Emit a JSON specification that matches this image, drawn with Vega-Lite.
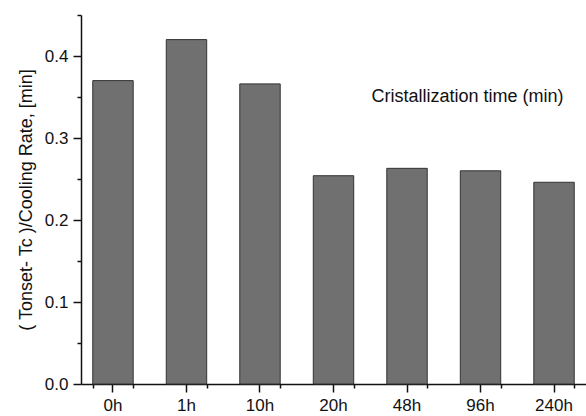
{
  "$schema": "https://vega.github.io/schema/vega-lite/v6.json",
  "width": 505,
  "height": 369,
  "autosize": {"type": "none"},
  "padding": {"left": 81, "top": 15, "right": 0, "bottom": 32},
  "background": "white",
  "config": {
    "view": {"stroke": null},
    "font": "Liberation Sans",
    "axis": {"labelFont": "Liberation Sans", "titleFont": "Liberation Sans", "labelColor": "#111", "titleColor": "#111", "domainColor": "#111", "tickColor": "#111", "grid": false, "domainWidth": 1.5, "tickWidth": 1.5}
  },
  "data": {
    "values": [
      {"time": "0h", "value": 0.370},
      {"time": "1h", "value": 0.420},
      {"time": "10h", "value": 0.366},
      {"time": "20h", "value": 0.254},
      {"time": "48h", "value": 0.263},
      {"time": "96h", "value": 0.260},
      {"time": "240h", "value": 0.246}
    ]
  },
  "layer": [
    {
      "mark": {"type": "bar", "fill": "#707070", "stroke": "#333", "strokeWidth": 1},
      "encoding": {
        "x": {
          "field": "time", "type": "ordinal", "sort": null,
          "scale": {"domain": ["0h", "1h", "10h", "20h", "48h", "96h", "240h"], "paddingInner": 0.45, "paddingOuter": 0.16},
          "axis": {"orient": "bottom", "title": null, "labelAngle": 0, "labelFontSize": 17, "tickSize": 8, "labelPadding": 5}
        },
        "y": {
          "field": "value", "type": "quantitative",
          "scale": {"domain": [0, 0.45], "nice": false},
          "axis": {"orient": "left", "values": [0, 0.1, 0.2, 0.3, 0.4], "format": ".1f", "labelFontSize": 17, "tickSize": 8, "labelPadding": 5, "title": "( Tonset- Tc )/Cooling Rate, [min]", "titleFontSize": 18, "titleFontWeight": "normal", "titlePadding": 9}
        }
      }
    },
    {
      "mark": {"type": "bar", "opacity": 0},
      "encoding": {
        "x": {
          "field": "time", "type": "ordinal", "sort": null,
          "axis": {"orient": "bottom", "title": null, "labels": false, "domain": false, "tickBand": "extent", "tickSize": 4}
        },
        "y": {
          "field": "value", "type": "quantitative",
          "axis": {"orient": "left", "title": null, "labels": false, "domain": false, "values": [0.05, 0.15, 0.25, 0.35, 0.45], "tickSize": 4}
        }
      }
    },
    {
      "data": {"values": [{"label": "Cristallization time (min)", "time": "96h", "value": 0.35}]},
      "mark": {"type": "text", "fontSize": 18, "fontWeight": "normal", "font": "Liberation Sans", "color": "#111", "align": "center", "dx": -13},
      "encoding": {
        "x": {"field": "time", "type": "ordinal", "axis": null},
        "y": {"field": "value", "type": "quantitative", "axis": null},
        "text": {"field": "label"}
      }
    }
  ],
  "resolve": {"axis": {"x": "independent", "y": "independent"}}
}
